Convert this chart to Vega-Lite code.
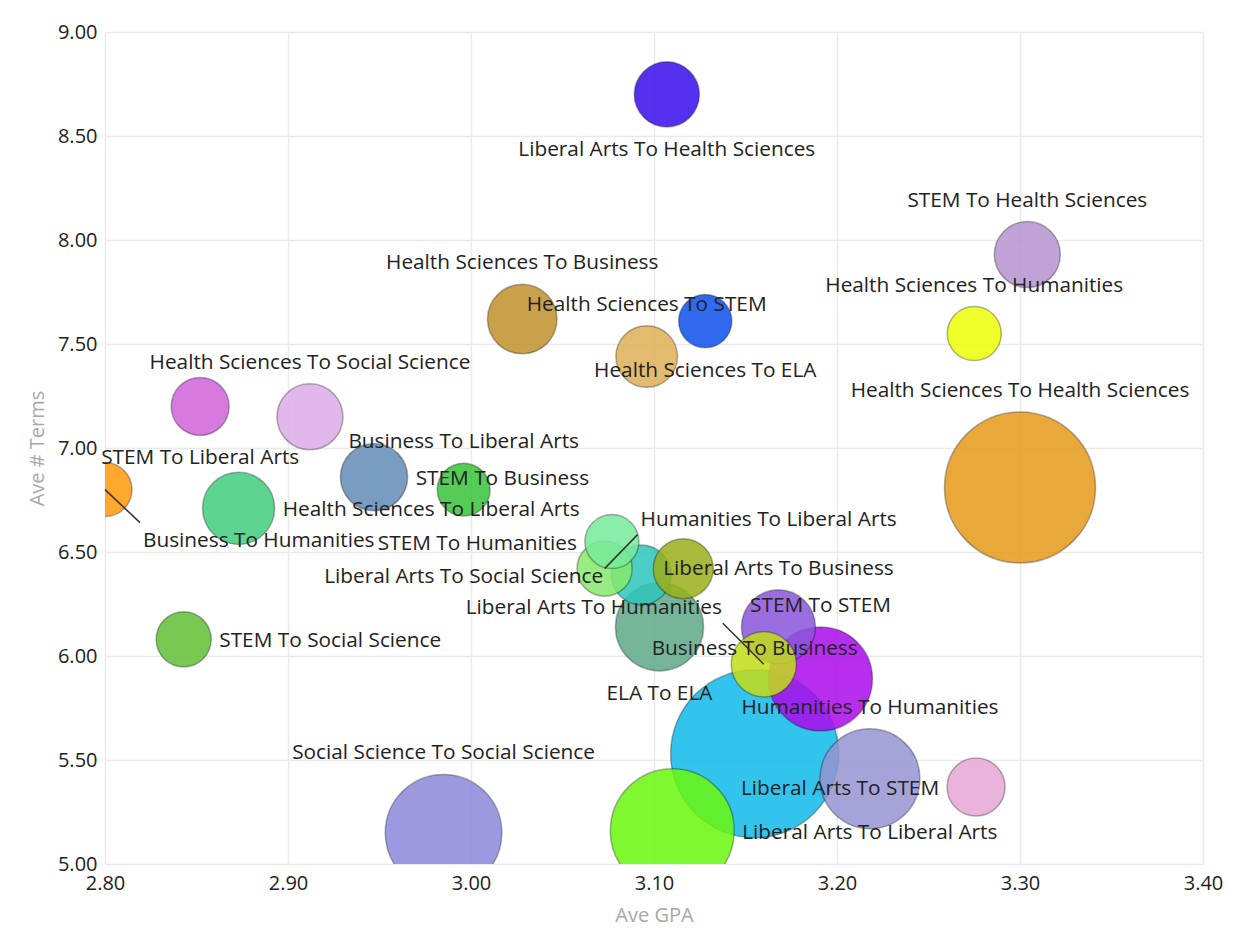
{
  "$schema": "https://vega.github.io/schema/vega-lite/v6.json",
  "autosize": {"type": "none"},
  "padding": {"left": 105, "top": 32, "right": 33, "bottom": 75},
  "width": 1098,
  "height": 832,
  "background": "white",
  "config": {
    "view": {"stroke": null},
    "axis": {
      "domain": false,
      "ticks": false,
      "grid": true,
      "labelFlush": false,
      "gridColor": "#EAEAEA",
      "gridWidth": 1.5,
      "labelFont": "Open Sans",
      "labelFontSize": 20,
      "labelColor": "#222222",
      "titleFont": "Open Sans",
      "titleFontSize": 20,
      "titleFontWeight": "normal",
      "titleColor": "#A8A8A8"
    },
    "text": {"font": "Open Sans", "fontSize": 20.8, "color": "#222222"}
  },
  "data": {
    "values": [
      {"name": "Business To Business", "gpa": 3.155, "terms": 5.53, "count": 706},
      {"name": "Health Sciences To Health Sciences", "gpa": 3.300, "terms": 6.81, "count": 570},
      {"name": "Liberal Arts To Liberal Arts", "gpa": 3.110, "terms": 5.16, "count": 384},
      {"name": "Social Science To Social Science", "gpa": 2.985, "terms": 5.15, "count": 340},
      {"name": "STEM To STEM", "gpa": 3.191, "terms": 5.89, "count": 270},
      {"name": "Humanities To Humanities", "gpa": 3.218, "terms": 5.41, "count": 250},
      {"name": "ELA To ELA", "gpa": 3.103, "terms": 6.14, "count": 194},
      {"name": "Liberal Arts To Business", "gpa": 3.168, "terms": 6.14, "count": 137},
      {"name": "Health Sciences To Liberal Arts", "gpa": 2.873, "terms": 6.71, "count": 130},
      {"name": "Health Sciences To Business", "gpa": 3.028, "terms": 7.62, "count": 121},
      {"name": "STEM To Business", "gpa": 2.947, "terms": 6.86, "count": 113},
      {"name": "STEM To Health Sciences", "gpa": 3.304, "terms": 7.93, "count": 109},
      {"name": "Health Sciences To Social Science", "gpa": 2.912, "terms": 7.15, "count": 109},
      {"name": "Liberal Arts To Health Sciences", "gpa": 3.107, "terms": 8.70, "count": 106},
      {"name": "Liberal Arts To Humanities", "gpa": 3.160, "terms": 5.96, "count": 106},
      {"name": "Health Sciences To STEM", "gpa": 3.096, "terms": 7.44, "count": 95},
      {"name": "Liberal Arts To Social Science", "gpa": 3.093, "terms": 6.39, "count": 90},
      {"name": "Unlabeled", "gpa": 3.116, "terms": 6.42, "count": 90},
      {"name": "STEM To Liberal Arts", "gpa": 2.852, "terms": 7.20, "count": 84},
      {"name": "Liberal Arts To STEM", "gpa": 3.276, "terms": 5.37, "count": 84},
      {"name": "Humanities To Liberal Arts", "gpa": 3.073, "terms": 6.42, "count": 76},
      {"name": "STEM To Social Science", "gpa": 2.843, "terms": 6.08, "count": 76},
      {"name": "Health Sciences To Humanities", "gpa": 3.275, "terms": 7.55, "count": 73},
      {"name": "Business To Humanities", "gpa": 2.800, "terms": 6.80, "count": 73},
      {"name": "STEM To Humanities", "gpa": 3.077, "terms": 6.55, "count": 73},
      {"name": "Health Sciences To ELA", "gpa": 3.128, "terms": 7.61, "count": 71},
      {"name": "Business To Liberal Arts", "gpa": 2.996, "terms": 6.80, "count": 70}
    ]
  },
  "encoding": {
    "x": {
      "field": "gpa", "type": "quantitative", "title": "Ave GPA",
      "scale": {"domain": [2.8, 3.4], "nice": false, "zero": false},
      "axis": {"values": [2.8, 2.9, 3.0, 3.1, 3.2, 3.3, 3.4], "format": ".2f", "labelPadding": 9, "titlePadding": 12}
    },
    "y": {
      "field": "terms", "type": "quantitative", "title": "Ave # Terms",
      "scale": {"domain": [5, 9], "nice": false, "zero": false},
      "axis": {"values": [5, 5.5, 6, 6.5, 7, 7.5, 8, 8.5, 9], "format": ".2f", "labelPadding": 8, "titlePadding": 10}
    }
  },
  "layer": [
    {
      "mark": {"type": "circle", "fillOpacity": 0.85, "stroke": "#000000", "strokeOpacity": 0.3, "strokeWidth": 1.5, "clip": true},
      "encoding": {
        "size": {"field": "count", "type": "quantitative", "legend": null, "scale": {"domain": [0, 1400], "range": [0, 56000]}},
        "order": {"field": "count", "type": "quantitative", "sort": "descending"},
        "color": {
          "field": "name", "type": "nominal", "legend": null,
          "scale": {
            "domain": ["Health Sciences To Health Sciences", "Business To Business", "Liberal Arts To Liberal Arts", "Social Science To Social Science", "STEM To STEM", "Humanities To Humanities", "ELA To ELA", "Liberal Arts To Business", "Health Sciences To Liberal Arts", "Health Sciences To Business", "STEM To Business", "STEM To Health Sciences", "Health Sciences To Social Science", "Liberal Arts To Health Sciences", "Liberal Arts To Humanities", "Health Sciences To STEM", "Liberal Arts To Social Science", "Unlabeled", "STEM To Liberal Arts", "Liberal Arts To STEM", "Humanities To Liberal Arts", "STEM To Social Science", "Health Sciences To Humanities", "Business To Humanities", "STEM To Humanities", "Health Sciences To ELA", "Business To Liberal Arts"],
            "range": ["#E49918", "#0FBAEB", "#6AF70C", "#8B87DB", "#AC09EB", "#9593D1", "#5FA889", "#8A55DB", "#41CE7D", "#BF902C", "#638BB5", "#B592CF", "#DBACE7", "#370CEB", "#C3DD18", "#DEAF56", "#2DC6BA", "#9AAF18", "#CF63DA", "#E5A6D5", "#87E96C", "#60BE34", "#EBFF05", "#FF990C", "#76EB9B", "#0C4EEB", "#37C337"]
          }
        }
      }
    },
    {
      "transform": [{"filter": {"field": "name", "oneOf": ["STEM To Health Sciences", "Health Sciences To Humanities", "Health Sciences To Health Sciences", "Health Sciences To Business", "Health Sciences To STEM", "Health Sciences To Social Science", "Business To Liberal Arts", "Liberal Arts To Business", "STEM To STEM", "Business To Business", "Humanities To Humanities", "Social Science To Social Science"]}}],
      "mark": {"type": "text", "align": "center", "baseline": "middle", "dy": {"expr": "-(sqrt(datum.count*10)+21)"}},
      "encoding": {"text": {"field": "name"}}
    },
    {
      "transform": [{"filter": {"field": "name", "oneOf": ["Liberal Arts To Health Sciences", "STEM To Liberal Arts", "Health Sciences To ELA", "ELA To ELA"]}}],
      "mark": {"type": "text", "align": "center", "baseline": "middle", "dy": {"expr": "sqrt(datum.count*10)+23"}},
      "encoding": {"text": {"field": "name"}}
    },
    {
      "transform": [{"filter": {"field": "name", "oneOf": ["Health Sciences To Liberal Arts", "STEM To Business", "Liberal Arts To Liberal Arts", "STEM To Social Science"]}}],
      "mark": {"type": "text", "align": "left", "baseline": "middle", "dy": 2, "dx": {"expr": "sqrt(datum.count*10)+8"}},
      "encoding": {"text": {"field": "name"}}
    },
    {
      "transform": [{"filter": {"field": "name", "oneOf": ["STEM To Humanities", "Liberal Arts To Social Science", "Liberal Arts To STEM"]}}],
      "mark": {"type": "text", "align": "right", "baseline": "middle", "dy": 2, "dx": {"expr": "-(sqrt(datum.count*10)+8)"}},
      "encoding": {"text": {"field": "name"}}
    },
    {
      "transform": [{"filter": {"field": "name", "equal": "Business To Humanities"}}],
      "mark": {"type": "rule", "color": "#333333", "strokeWidth": 1.5, "x2Offset": 35, "y2Offset": 33},
      "encoding": {"x2": {"field": "gpa"}, "y2": {"field": "terms"}}
    },
    {
      "transform": [{"filter": {"field": "name", "equal": "Humanities To Liberal Arts"}}],
      "mark": {"type": "rule", "color": "#333333", "strokeWidth": 1.5, "x2Offset": 33, "y2Offset": -34},
      "encoding": {"x2": {"field": "gpa"}, "y2": {"field": "terms"}}
    },
    {
      "transform": [{"filter": {"field": "name", "equal": "Liberal Arts To Humanities"}}],
      "mark": {"type": "rule", "color": "#333333", "strokeWidth": 1.5, "x2Offset": -41, "y2Offset": -41},
      "encoding": {"x2": {"field": "gpa"}, "y2": {"field": "terms"}}
    },
    {
      "transform": [{"filter": {"field": "name", "equal": "Business To Humanities"}}],
      "mark": {"type": "text", "align": "left", "baseline": "middle", "dx": 38, "dy": 51},
      "encoding": {"text": {"field": "name"}}
    },
    {
      "transform": [{"filter": {"field": "name", "equal": "Humanities To Liberal Arts"}}],
      "mark": {"type": "text", "align": "left", "baseline": "middle", "dx": 36, "dy": -49},
      "encoding": {"text": {"field": "name"}}
    },
    {
      "transform": [{"filter": {"field": "name", "equal": "Liberal Arts To Humanities"}}],
      "mark": {"type": "text", "align": "right", "baseline": "middle", "dx": -42, "dy": -56},
      "encoding": {"text": {"field": "name"}}
    }
  ]
}
